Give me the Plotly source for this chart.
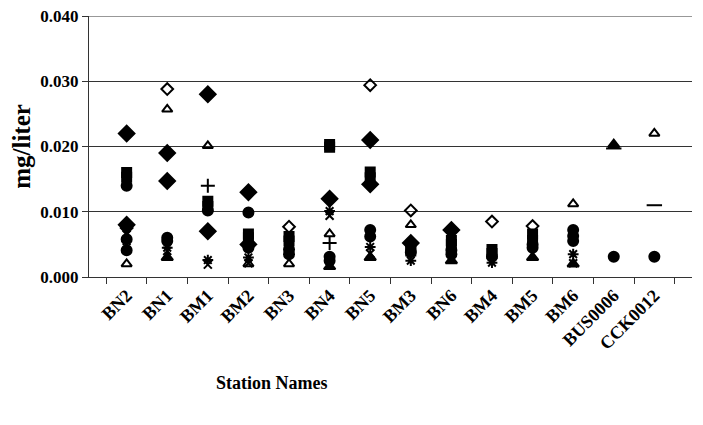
import plotly.graph_objects as go

stations = ["BN2", "BN1", "BM1", "BM2", "BN3", "BN4", "BN5", "BM3", "BN6", "BM4", "BM5", "BM6", "BUS0006", "CCK0012"]

diamond_hi = [0.022, 0.019, 0.028, 0.013, None, 0.012, 0.021, 0.0052, 0.0072, None, None, None, None, None]
diamond_lo = [0.008, 0.0147, 0.007, 0.005, None, None, 0.0142, None, None, None, None, None, None, None]
diamond_open = [0.0075, 0.0288, None, None, 0.0077, None, 0.0294, 0.0102, None, 0.0085, 0.0078, None, None, None]
triangle_open = [0.002, 0.0257, 0.0201, 0.002, 0.002, 0.0066, None, 0.008, None, None, None, 0.0112, None, 0.022]
square_a = [0.016, None, 0.0116, 0.0066, 0.0062, 0.0203, 0.0161, 0.0046, 0.0056, 0.0042, 0.0066, None, None, None]
square_b = [0.0153, None, 0.0108, 0.006, 0.0055, 0.0199, 0.0152, 0.004, 0.005, 0.0036, 0.0056, None, None, None]
circle_a = [0.014, 0.006, 0.0102, 0.0099, 0.0042, 0.0031, 0.0072, 0.0038, 0.0041, 0.0031, 0.005, 0.0072, 0.0031, 0.0031]
circle_b = [0.0058, 0.0055, None, 0.0045, 0.0035, 0.0025, 0.0062, None, 0.0035, None, 0.0045, 0.0063, None, None]
circle_c = [0.0041, None, None, None, None, None, None, None, None, None, None, 0.0055, None, None]
asterisk = [0.0055, 0.0045, 0.0026, 0.003, None, 0.0101, 0.0046, 0.0025, None, 0.0022, None, 0.0035, None, None]
xmark = [0.0065, 0.004, 0.0019, 0.0021, None, 0.0094, 0.0036, None, None, None, None, 0.0021, None, None]
plus = [None, None, 0.014, None, None, 0.0052, None, None, None, None, None, None, None, None]
triangle_filled = [None, 0.003, None, None, None, 0.0016, 0.003, None, 0.0025, None, 0.003, 0.002, 0.0203, None]
dash = [None, None, None, None, None, None, None, None, None, None, None, None, 0.0197, 0.011]

y_ticks = [0.0, 0.01, 0.02, 0.03, 0.04]
y_tick_text = ["0.000", "0.010", "0.020", "0.030", "0.040"]

series = [
    ("diamond_hi", diamond_hi, "diamond", 12),
    ("diamond_lo", diamond_lo, "diamond", 12),
    ("diamond_open", diamond_open, "diamond-open", 9),
    ("triangle_open", triangle_open, "triangle-up-open", 9),
    ("square_a", square_a, "square", 9),
    ("square_b", square_b, "square", 9),
    ("circle_a", circle_a, "circle", 10),
    ("circle_b", circle_b, "circle", 10),
    ("circle_c", circle_c, "circle", 10),
    ("asterisk", asterisk, "asterisk-open", 9),
    ("xmark", xmark, "x-thin-open", 8),
    ("plus", plus, "cross-thin-open", 10),
    ("triangle_filled", triangle_filled, "triangle-up", 10),
    ("dash", dash, "line-ew-open", 11),
]

fig = go.Figure()
for name, vals, sym, size in series:
    fig.add_trace(go.Scatter(
        x=stations, y=vals, mode="markers", name=name,
        marker=dict(symbol=sym, size=size, color="black",
                    line=dict(color="black", width=2)),
        showlegend=False,
    ))

font_family = "Liberation Serif, Times New Roman, serif"

# page body has an 8px margin, so the figure is shrunk and offset accordingly
fig.update_layout(
    width=695, height=417,
    margin=dict(l=81, r=11, t=8, b=148),
    paper_bgcolor="white", plot_bgcolor="white",
    font=dict(family=font_family, color="black"),
    xaxis=dict(
        type="category", categoryorder="array", categoryarray=stations,
        tickangle=-45, tickson="boundaries", ticks="outside", ticklen=6,
        tickcolor="#333", showline=True, linecolor="#333", linewidth=1,
        showgrid=False, automargin=False, ticklabeloverflow="allow",
        tickfont=dict(size=18, family=font_family, weight="bold"),
    ),
    yaxis=dict(
        range=[0, 0.04], tickvals=y_ticks, ticktext=y_tick_text,
        ticks="outside", ticklen=6, tickcolor="#333",
        showline=True, linecolor="#333", linewidth=1,
        showgrid=True, gridcolor="#333", gridwidth=1, zeroline=False,
        automargin=False, ticklabeloverflow="allow",
        tickfont=dict(size=17, family=font_family, weight="bold"),
        title=dict(text="mg/liter", font=dict(size=25, family=font_family, weight="bold"), standoff=6),
    ),
    shapes=[dict(
        type="line", xref="paper", yref="y", x0=0, x1=1, y0=y_ticks[-1], y1=y_ticks[-1],
        line=dict(color="#333", width=1), layer="below",
    )],
    annotations=[dict(
        text="<b>Station Names</b>", xref="paper", yref="paper",
        x=(272 - 89) / (692 - 89), y=-(383 - 277) / (277 - 16),
        xanchor="center", yanchor="middle", showarrow=False,
        font=dict(size=18, family=font_family),
    )],
)

fig.write_html("out.html")
